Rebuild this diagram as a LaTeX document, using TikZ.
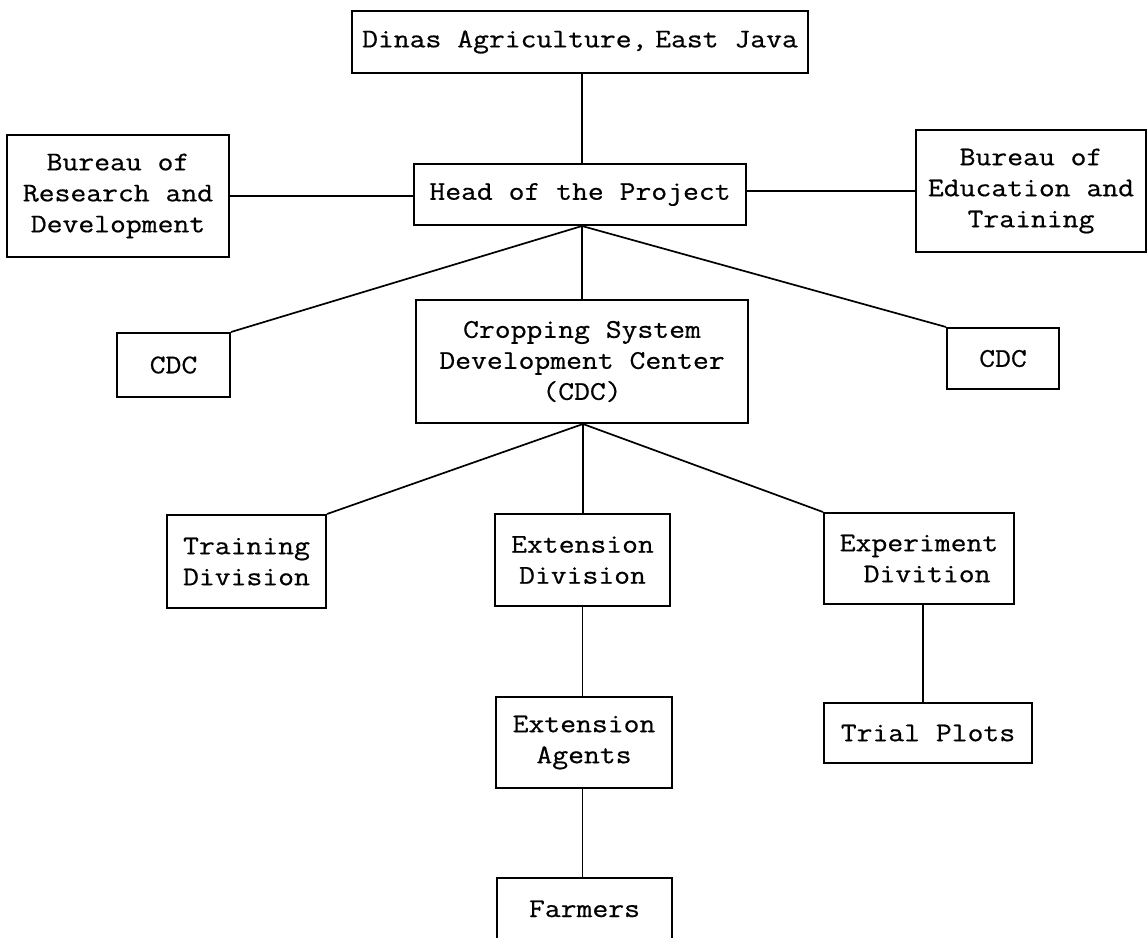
\documentclass[tikz,border=0pt]{standalone}
\usepackage{fontspec}
\setmainfont{Latin Modern Mono}[FakeStretch=1.14, FakeBold=0.6]
\begin{document}
\begin{tikzpicture}[x=1pt,y=1pt,
  box/.style={draw=black, line width=2pt, rectangle, inner sep=0pt, align=center,
    font=\fontsize{27}{31}\selectfont},
  link/.style={draw=black, line width=1.7pt},
  thinlink/.style={draw=black, line width=1.1pt}]
\useasboundingbox (0,0) rectangle (1147,-937);
\clip (0,0) rectangle (1147,-937);
\fill[white] (0,0) rectangle (1147,-937);

\node[box, minimum width=456, minimum height=62] (dinas) at (580,-42) {Dinas Agriculture,\hspace{-0.3em} East Java};
\node[box, minimum width=332, minimum height=61] (head) at (580,-194.5) {Head of the Project};
\node[box, minimum width=222, minimum height=122] (burR) at (118,-196) {Bureau of\\Research and\\Development};
\node[box, minimum width=230, minimum height=122] (burE) at (1031,-191) {Bureau of\\Education and\\Training};
\node[box, minimum width=113, minimum height=64] (cdcL) at (173.5,-365) {CDC};
\node[box, minimum width=332, minimum height=123] (csdc) at (582,-361.5) {Cropping System\\Development Center\\(CDC)};
\node[box, minimum width=112, minimum height=61] (cdcR) at (1003,-358.5) {CDC};
\node[box, minimum width=159, minimum height=93] (train) at (246.5,-561.5) {Training\\Division};
\node[box, minimum width=175, minimum height=92] (extdiv) at (582.5,-560) {Extension\\Division};
\node[box, minimum width=190, minimum height=91] (expdiv) at (919,-558.5) {Experiment\\\hspace*{0.6em}Divition};
\node[box, minimum width=176, minimum height=91] (agents) at (584,-742.5) {Extension\\Agents};
\node[box, minimum width=208, minimum height=60] (trial) at (928,-733) {Trial Plots};
\node[box, minimum width=175, minimum height=90] (farmers) at (584.5,-923) {};
\node[font=\fontsize{27}{31}\selectfont, anchor=base] (farmerstext) at (584.5,-917) {Farmers};

\coordinate (headapex) at ([xshift=2pt]head.south);
\draw[thinlink] ([xshift=2pt]head.north) -- ([xshift=2pt]head.north |- dinas.south);
\draw[link] (burR.east) -- (burR.east -| head.west);
\draw[link] (head.east |- burE.west) -- (burE.west);
\draw[link] (headapex) -- (cdcL.north east);
\draw[thinlink] (headapex) -- (headapex |- csdc.north);
\draw[link] (headapex) -- (cdcR.north west);

\coordinate (csdcapex) at ([xshift=1pt]csdc.south);
\draw[link] (csdcapex) -- (train.north east);
\draw[thinlink] (csdcapex) -- (csdcapex |- extdiv.north);
\draw[link] (csdcapex) -- (expdiv.north west);

\draw[thinlink] (extdiv.south) -- (extdiv.south |- agents.north);
\draw[link] (agents.south -| extdiv.south) -- (extdiv.south |- farmers.north);
\draw[link] ([xshift=4pt]expdiv.south) -- ([xshift=4pt]expdiv.south |- trial.north);
\end{tikzpicture}
\end{document}
